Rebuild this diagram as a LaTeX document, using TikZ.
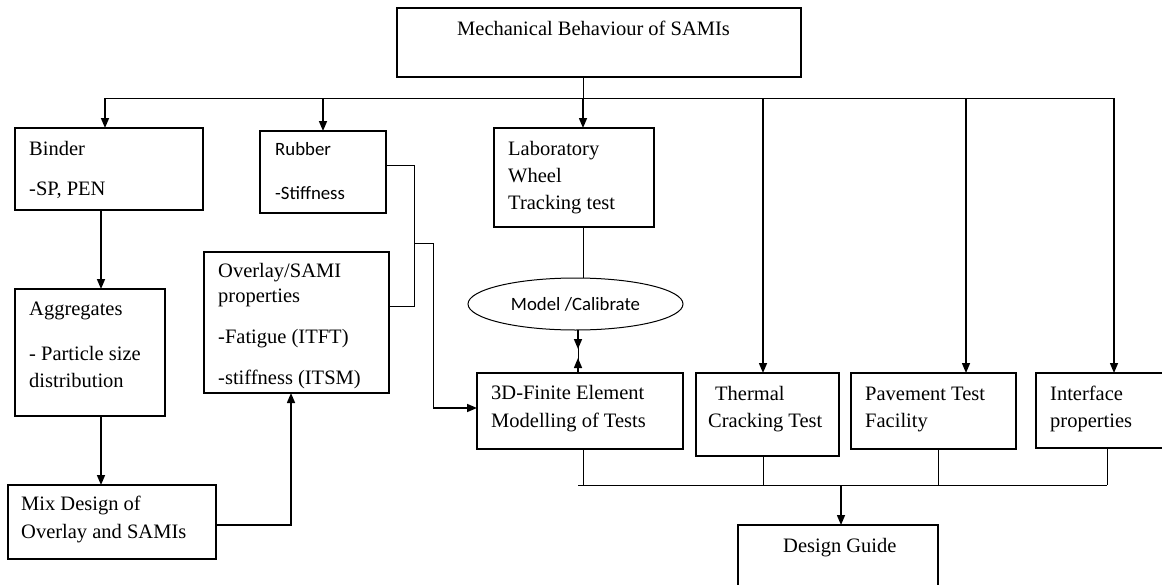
\documentclass[tikz,border=0pt]{standalone}
\usepackage{fontspec}
\setmainfont{Liberation Serif}
\newfontfamily\calib{Carlito}
\usetikzlibrary{arrows.meta,shapes.geometric}
\begin{document}
\begin{tikzpicture}[x=1pt,y=-1pt,
  box/.style={draw,line width=1.2pt,inner sep=0,outer sep=0,anchor=north west},
  txt/.style={anchor=base west,inner sep=0,font=\fontsize{20.5}{24}\selectfont},
  stxt/.style={anchor=base west,inner sep=0,font=\calib\fontsize{18.8}{22}\selectfont},
  ln/.style={line width=1pt},
  arr/.style={line width=1.5pt,-{Triangle[length=10pt,width=8pt]}}]
\useasboundingbox (0,0) rectangle (1162,584);
% boxes
\node[box,minimum width=404pt,minimum height=69pt] (top) at (397,8) {};
\node[box,minimum width=188pt,minimum height=82pt] (binder) at (15,128) {};
\node[box,minimum width=126pt,minimum height=82pt] (rubber) at (260,131) {};
\node[box,minimum width=160pt,minimum height=99pt] (lab) at (494,128) {};
\node[box,minimum width=185pt,minimum height=141pt] (overlay) at (204,252) {};
\node[box,minimum width=150pt,minimum height=127pt] (aggr) at (15,289) {};
\node[box,minimum width=208pt,minimum height=74pt] (mix) at (8,485) {};
\node[draw,ellipse,line width=1pt,inner sep=0,outer sep=0,minimum width=215pt,minimum height=52pt,
  font=\calib\fontsize{18.8}{22}\selectfont] (ell) at (575.5,304) {Model /Calibrate};
\node[box,minimum width=206pt,minimum height=76pt] (fe) at (477,373) {};
\node[box,minimum width=143pt,minimum height=83pt] (thermal) at (696,373) {};
\node[box,minimum width=165pt,minimum height=76pt] (pave) at (851,373) {};
\node[box,minimum width=134pt,minimum height=75pt] (inter) at (1036,373) {};
\node[box,minimum width=200pt,minimum height=75pt] (design) at (738,525) {};
% texts
\node[txt] (ttop) at (457,35) {Mechanical Behaviour of SAMIs};
\node[txt] (tbin1) at (29,155) {Binder};
\node[txt] (tbin2) at (29,195) {-SP, PEN};
\node[stxt] (trub1) at (275,155) {Rubber};
\node[stxt] (trub2) at (275,199) {-Stiffness};
\node[txt] (tlab1) at (508,155) {Laboratory};
\node[txt] (tlab2) at (508,182) {Wheel};
\node[txt] (tlab3) at (508,209) {Tracking test};
\node[txt] (tov1) at (218,277) {Overlay/SAMI};
\node[txt] (tov2) at (218,302) {properties};
\node[txt] (tov3) at (218,343) {-Fatigue (ITFT)};
\node[txt] (tov4) at (218,384) {-stiffness (ITSM)};
\node[txt] (tag1) at (29,315) {Aggregates};
\node[txt] (tag2) at (29,360) {- Particle size};
\node[txt] (tag3) at (29,387) {distribution};
\node[txt] (tmix1) at (21,510) {Mix Design of};
\node[txt] (tmix2) at (21,538) {Overlay and SAMIs};
\node[txt] (tfe1) at (491,399) {3D-Finite Element};
\node[txt] (tfe2) at (491,427) {Modelling of Tests};
\node[txt] (tth1) at (715,400) {Thermal};
\node[txt] (tth2) at (708,427) {Cracking Test};
\node[txt] (tpv1) at (865,400) {Pavement Test};
\node[txt] (tpv2) at (865,427) {Facility};
\node[txt] (tin1) at (1050,400) {Interface};
\node[txt] (tin2) at (1050,427) {properties};
\node[txt] (tdg) at (783,552) {Design Guide};
% top bus
\coordinate (busL) at (105,98);
\coordinate (busC) at (583,98);
\coordinate (busR) at (1114,98);
\coordinate (bRub) at (323,98);
\coordinate (bTh) at (763,98);
\coordinate (bPv) at (966,98);
\draw[ln] (top.south -| busC) -- (busC);
\draw[ln] (busL) -- (busR);
\draw[arr] (busL) -- (busL |- binder.north);
\draw[arr] (bRub) -- (bRub |- rubber.north);
\draw[arr] (busC) -- (busC |- lab.north);
\draw[arr] (bTh) -- (bTh |- thermal.north);
\draw[arr] (bPv) -- (bPv |- pave.north);
\draw[arr] (busR) -- (busR |- inter.north);
% left column
\coordinate (xa) at (101,0);
\draw[arr] (binder.south -| xa) -- (aggr.north -| xa);
\draw[arr] (aggr.south -| xa) -- (mix.north -| xa);
\coordinate (mixo) at (216,525);
\coordinate (xo) at (291,0);
\draw[arr] (mix.east |- mixo) -| (overlay.south -| xo);
% rubber / overlay bracket
\coordinate (rb) at (414,165);
\coordinate (ob) at (414,306);
\coordinate (jn) at (414,243);
\coordinate (jr) at (433,243);
\coordinate (fin) at (433,408);
\draw[ln] (rubber.east |- rb) -- (rb) -- (ob) -- (overlay.east |- ob);
\draw[ln] (jn) -- (jr) -- (fin);
\draw[arr] (fin) -- (fe.west |- fin);
% lab / model / FE
\coordinate (xl) at (583,0);
\coordinate (xm) at (578,0);
\draw[ln] (lab.south -| xl) -- (xl |- ell.north);
\draw[ln] (ell.south -| xm) -- (fe.north -| xm);
\draw[arr] (ell.south -| xm) -- ++(0,19);
\draw[arr] (fe.north -| xm) -- ++(0,-15);
% bottom bus
\coordinate (bbL) at (578,485);
\coordinate (bbR) at (1107,485);
\coordinate (bbD) at (841,485);
\coordinate (xfe) at (583,0);
\coordinate (xth) at (763,0);
\coordinate (xpv) at (938,0);
\draw[ln] (bbL) -- (bbR);
\draw[ln] (fe.south -| xfe) -- (xfe |- bbL);
\draw[ln] (thermal.south -| xth) -- (xth |- bbL);
\draw[ln] (pave.south -| xpv) -- (xpv |- bbL);
\draw[ln] (inter.south -| bbR) -- (bbR);
\draw[arr] (bbD) -- (bbD |- design.north);
\end{tikzpicture}
\end{document}
